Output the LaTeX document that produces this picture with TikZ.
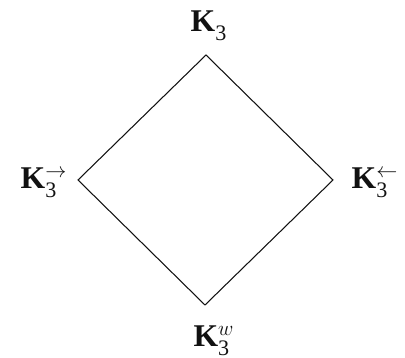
\documentclass[tikz,border=0pt]{standalone}
\usepackage{amsmath,amssymb}
\usepackage{fontspec}
\setmainfont{Liberation Serif}
\usepackage{tikz}
\usetikzlibrary{positioning}
\definecolor{DInk}{HTML}{111111}
\newcommand{\kvar}[1]{\textbf{K}$_{\mathrm{3}}^{#1}$}

\begin{document}
\begin{tikzpicture}[every node/.style={font=\fontsize{18}{20}\selectfont,text=DInk,inner sep=1pt},
    edge/.style={draw=DInk,line width=0.6pt}]
    \useasboundingbox (0,0) rectangle (8.1,7.16);
    % corners of the square
    \coordinate (ctop) at (4.12,6.06);
    \coordinate (cleft) at (1.56,3.56);
    \coordinate (cright) at (6.66,3.56);
    \coordinate (cbot) at (4.10,1.06);
    \draw[edge] (ctop) -- (cright) -- (cbot) -- (cleft) -- cycle;
    % labels
    \node (kthree) at (4.18,6.64) {\kvar{}};
    \node (kfwd) at (0.88,3.50) {\kvar{\rightarrow}};
    \node (kback) at (7.50,3.50) {\kvar{\leftarrow}};
    \node (kweak) at (4.28,0.34) {\kvar{w}};
\end{tikzpicture}
\end{document}
